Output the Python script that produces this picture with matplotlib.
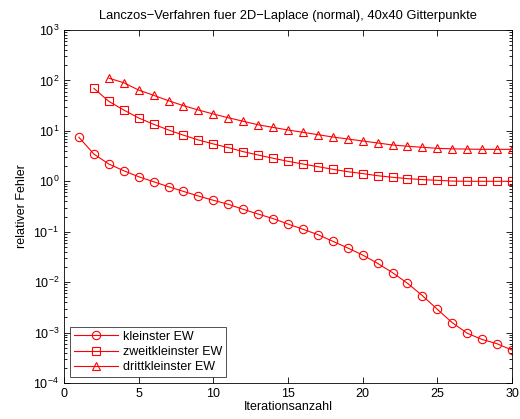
import matplotlib
matplotlib.use("Agg")
import matplotlib.pyplot as plt
from matplotlib.ticker import LogLocator, NullFormatter

plt.rcParams['font.family'] = ['Liberation Sans', 'DejaVu Sans']

# Iterationsnummern und relative Fehler der drei kleinsten Eigenwerte
it_1 = list(range(1, 31))
err_1 = [7.45, 3.47, 2.2, 1.62, 1.23, 0.98, 0.78, 0.63, 0.51, 0.42,
         0.35, 0.278, 0.224, 0.182, 0.142, 0.112, 0.0875, 0.0646, 0.0476, 0.0345,
         0.0236, 0.0154, 0.0095, 0.0054, 0.00289, 0.00157, 0.00097, 0.00073, 0.00060, 0.00045]

it_2 = list(range(2, 31))
err_2 = [69.7, 38.5, 25.9, 18.0, 13.5, 10.4, 8.2, 6.6, 5.5,
         4.65, 3.87, 3.32, 2.86, 2.49, 2.2, 1.95, 1.73, 1.55, 1.42,
         1.29, 1.2, 1.13, 1.08, 1.045, 1.01, 1.0, 1.0, 1.0, 1.0]

it_3 = list(range(3, 31))
err_3 = [111, 90, 64.5, 50.7, 39.6, 31.6, 25.9, 21.6,
         18.2, 15.5, 13.2, 11.7, 10.4, 9.35, 8.4, 7.55, 6.9, 6.3,
         5.75, 5.25, 4.95, 4.72, 4.5, 4.4, 4.35, 4.3, 4.3, 4.3]

labels = ['kleinster EW', 'zweitkleinster EW', 'drittkleinster EW']
title = 'Lanczos\u2212Verfahren fuer 2D\u2212Laplace (normal), 40x40 Gitterpunkte'

fig = plt.figure(figsize=(5.2, 4.19), dpi=100)
ax = fig.add_axes([64 / 520, 1 - 383 / 419, (512 - 64) / 520, (383 - 30) / 419])

red = '#ff0000'
common = dict(color=red, lw=0.8, markerfacecolor='none', markeredgecolor=red,
              markeredgewidth=0.8)
ax.plot(it_1, err_1, marker='o', markersize=6, label=labels[0], **common)
ax.plot(it_2, err_2, marker='s', markersize=5.5, label=labels[1], **common)
ax.plot(it_3, err_3, marker='^', markersize=5.5, label=labels[2], **common)

ax.set_yscale('log')
ax.set_xlim(0, 30)
ax.set_ylim(1e-4, 1e3)
ax.set_xticks(range(0, 31, 5))
ax.yaxis.set_major_locator(LogLocator(base=10, numticks=20))
ax.yaxis.set_minor_locator(LogLocator(base=10, subs=range(2, 10), numticks=20))
ax.yaxis.set_minor_formatter(NullFormatter())

ax.tick_params(which='both', direction='in', top=True, right=True,
               labelsize=9, width=0.6)
ax.tick_params(which='major', length=4)
ax.tick_params(which='minor', length=2)
for s in ax.spines.values():
    s.set_linewidth(0.6)

ax.set_title(title, fontsize=9.3, pad=8)
ax.set_xlabel('Iterationsanzahl', fontsize=9, labelpad=1)
ax.set_ylabel('relativer Fehler', fontsize=9, labelpad=4)

leg = ax.legend(loc='lower left', fontsize=9, frameon=True, fancybox=False,
                edgecolor='black', borderpad=0.3, labelspacing=0.25,
                handlelength=3.5, handletextpad=0.4, borderaxespad=0.5)
leg.get_frame().set_linewidth(0.6)

fig.savefig('out.png', dpi=100)
